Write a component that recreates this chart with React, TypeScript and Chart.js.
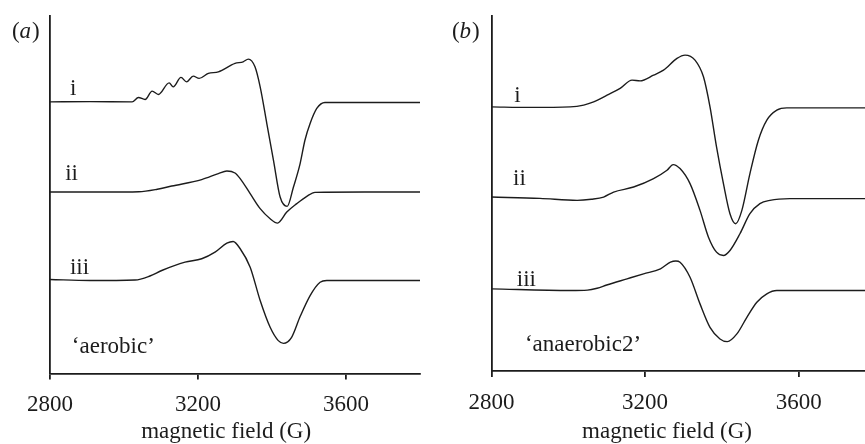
import { useEffect, useRef } from "react";
import { Chart, registerables } from "chart.js";

Chart.register(...registerables);

const INK = "#1c1c1c";
const FONT = "'Liberation Serif', 'Times New Roman', Times, serif";

// x-axis tick labels (magnetic field, G)
const fieldTicks = [2800, 3200, 3600];

// ---- panel (a) 'aerobic' : field (G) and first-derivative EPR signal (a.u., relative to its baseline)
const aerobicFieldI = [2800, 2908, 3022, 3039, 3057, 3076, 3093, 3122, 3133, 3154, 3169, 3187, 3203, 3228, 3255, 3300, 3322, 3336, 3354, 3368, 3386, 3404, 3422, 3441, 3458, 3476, 3489, 3503, 3521, 3543, 3650, 3800];
const aerobicSignalI = [0, 0.2, 0, 4.4, 2.4, 10.7, 7.4, 19, 15, 24.4, 20, 25.7, 23.4, 28.4, 30, 38.4, 40, 42.7, 35, 15, -21.6, -58.3, -95, -104.3, -85, -61.6, -38.3, -21.6, -6.6, -0.6, -0.6, -0.6];

const aerobicFieldII = [2800, 2950, 3040, 3090, 3129, 3210, 3255, 3278, 3300, 3314, 3341, 3368, 3395, 3415, 3440, 3467, 3494, 3516, 3650, 3800];
const aerobicSignalII = [0, 0, 0.3, 2.8, 6, 12.4, 18.4, 21, 19, 13.4, -1.6, -16.6, -26.6, -31, -20, -11.6, -4.3, -0.3, 0, 0];

const aerobicFieldIII = [2800, 2908, 3030, 3070, 3102, 3165, 3210, 3246, 3278, 3295, 3314, 3341, 3368, 3395, 3417, 3431, 3453, 3476, 3503, 3530, 3548, 3650, 3800];
const aerobicSignalIII = [0, -1, -0.5, 3.5, 9, 17.3, 20.7, 27.3, 36.3, 38, 30.7, 12.3, -21, -47.7, -61, -63.7, -57.7, -37, -16, -2.7, -1, -1, -1];

const aerobicOffsets = [271, 181, 93.7];

// ---- panel (b) 'anaerobic2'
const anaerobicFieldI = [2800, 2900, 3005, 3040, 3066, 3101, 3135, 3166, 3187, 3222, 3248, 3283, 3304, 3330, 3352, 3369, 3386, 3404, 3421, 3436, 3452, 3473, 3495, 3517, 3543, 3569, 3650, 3800];
const anaerobicSignalI = [0, -0.5, 0, 1.8, 5, 11.7, 18.4, 26.7, 26, 31.7, 36.7, 48.4, 51.7, 46.7, 30, 0, -40, -76.6, -106.6, -116.6, -103.3, -66.6, -33.3, -13.3, -3.3, -1, -1, -1];

const anaerobicFieldII = [2800, 2926, 3023, 3060, 3092, 3118, 3170, 3222, 3257, 3273, 3291, 3317, 3343, 3365, 3386, 3404, 3421, 3447, 3473, 3499, 3525, 3577, 3800];
const anaerobicSignalII = [0, -1.3, -3.3, -2.2, 0, 5, 10, 18.4, 26.7, 32.4, 28.4, 13.4, -13.3, -40, -55, -58.3, -53.3, -36.6, -16.6, -6.6, -3.3, -1.6, -1.6];

const anaerobicFieldIII = [2800, 3005, 3050, 3075, 3100, 3153, 3196, 3240, 3266, 3280, 3291, 3317, 3343, 3369, 3395, 3414, 3439, 3465, 3491, 3517, 3543, 3650, 3800];
const anaerobicSignalIII = [0, -1.7, -1.3, 0.6, 3.8, 10, 15, 20, 26.6, 27.8, 26.6, 11.6, -15, -38.4, -50, -52.7, -45, -28.4, -13.4, -5, -1.7, -1.7, -1.7];

const anaerobicOffsets = [263.6, 173.6, 82];

const traceNames = ["i", "ii", "iii"];

type Label = { text: string; field: number; value: number; align?: CanvasTextAlign; italicPanel?: string };

type PanelProps = {
  left: number;
  width: number;
  yMax: number;
  padding: { left: number; right: number; top: number; bottom: number };
  fields: number[][];
  signals: number[][];
  offsets: number[];
  labels: Label[];
};

function build(fields: number[], signal: number[], offset: number) {
  return fields.map((f, i) => ({ x: f, y: signal[i] + offset }));
}

const labelPlugin = {
  id: "panelLabels",
  afterDraw(chart: any) {
    const labels: Label[] = chart.options.plugins.panelLabels?.labels || [];
    const ctx = chart.ctx;
    const xs = chart.scales.x;
    const ys = chart.scales.y;
    ctx.save();
    ctx.fillStyle = INK;
    ctx.textBaseline = "alphabetic";
    for (const l of labels) {
      const px = xs.getPixelForValue(l.field);
      const py = ys.getPixelForValue(l.value);
      if (l.italicPanel) {
        const normal = `23px ${FONT}`;
        const italic = `italic 23px ${FONT}`;
        ctx.textAlign = "left";
        let x = px;
        ctx.font = normal;
        ctx.fillText("(", x, py);
        x += ctx.measureText("(").width;
        ctx.font = italic;
        ctx.fillText(l.italicPanel, x, py);
        x += ctx.measureText(l.italicPanel).width + 1;
        ctx.font = normal;
        ctx.fillText(")", x, py);
      } else {
        ctx.font = `23px ${FONT}`;
        ctx.textAlign = l.align || "left";
        ctx.fillText(l.text, px, py);
      }
    }
    ctx.restore();
  },
};

function Panel(props: PanelProps) {
  const ref = useRef<HTMLCanvasElement | null>(null);
  useEffect(() => {
    if (!ref.current) return;
    const datasets = props.fields.map((f, k) => ({
      label: traceNames[k],
      data: build(f, props.signals[k], props.offsets[k]),
      borderColor: INK,
      borderWidth: 1.4,
      pointRadius: 0,
      fill: false,
      cubicInterpolationMode: "monotone" as const,
    }));
    const chart = new Chart(ref.current, {
      type: "line",
      data: { datasets },
      plugins: [labelPlugin],
      options: {
        animation: false,
        responsive: false,
        events: [],
        layout: { padding: props.padding },
        plugins: {
          legend: { display: false },
          tooltip: { enabled: false },
          // @ts-ignore
          panelLabels: { labels: props.labels },
        },
        scales: {
          x: {
            type: "linear",
            min: 2800,
            max: 3800,
            afterBuildTicks: (s: any) => {
              s.ticks = fieldTicks.map((v) => ({ value: v }));
            },
            grid: { display: true, drawOnChartArea: false, drawTicks: true, tickLength: 6, color: INK, lineWidth: 1.8 },
            border: { display: true, color: INK, width: 1.8 },
            ticks: {
              font: { family: FONT, size: 23 },
              color: INK,
              padding: 12,
              maxRotation: 0,
              autoSkip: false,
              callback: (v: any) => String(v),
            },
          },
          y: {
            type: "linear",
            min: 0,
            max: props.yMax,
            grid: { display: false, drawTicks: false },
            border: { display: true, color: INK, width: 1.8 },
            ticks: { display: false },
          },
        },
      },
    });
    return () => chart.destroy();
  }, []);
  return (
    <div style={{ position: "absolute", left: props.left, top: 0, width: props.width, height: 444 }}>
      <canvas ref={ref} width={props.width} height={444} style={{ width: props.width, height: 444, display: "block" }} />
    </div>
  );
}

export default function App() {
  return (
    <div style={{ position: "fixed", left: 0, top: 0, width: 865, height: 444, overflow: "hidden", background: "#fff" }}>
      <Panel
        left={0}
        width={432}
        yMax={356.7}
        padding={{ left: 50, right: 12, top: 16, bottom: 13 }}
        fields={[aerobicFieldI, aerobicFieldII, aerobicFieldIII]}
        signals={[aerobicSignalI, aerobicSignalII, aerobicSignalIII]}
        offsets={aerobicOffsets}
        labels={[
          { text: "", field: 2697, value: 334.7, italicPanel: "a" },
          { text: "i", field: 2854, value: 277.7 },
          { text: "ii", field: 2841, value: 192.7 },
          { text: "iii", field: 2854, value: 99 },
          { text: "\u2018aerobic\u2019", field: 2859, value: 20.7 },
          { text: "magnetic field (G)", field: 3276, value: -64.3, align: "center" },
        ]}
      />
      <Panel
        left={432}
        width={450}
        yMax={354.3}
        padding={{ left: 59.5, right: 6.5, top: 16, bottom: 15.4 }}
        fields={[anaerobicFieldI, anaerobicFieldII, anaerobicFieldIII]}
        signals={[anaerobicSignalI, anaerobicSignalII, anaerobicSignalIII]}
        offsets={anaerobicOffsets}
        labels={[
          { text: "", field: 2697, value: 332.3, italicPanel: "b" },
          { text: "i", field: 2859, value: 268.6 },
          { text: "ii", field: 2856, value: 185.3 },
          { text: "iii", field: 2866, value: 85 },
          { text: "\u2018anaerobic2\u2019", field: 2887, value: 20 },
          { text: "magnetic field (G)", field: 3257, value: -66.7, align: "center" },
        ]}
      />
    </div>
  );
}
